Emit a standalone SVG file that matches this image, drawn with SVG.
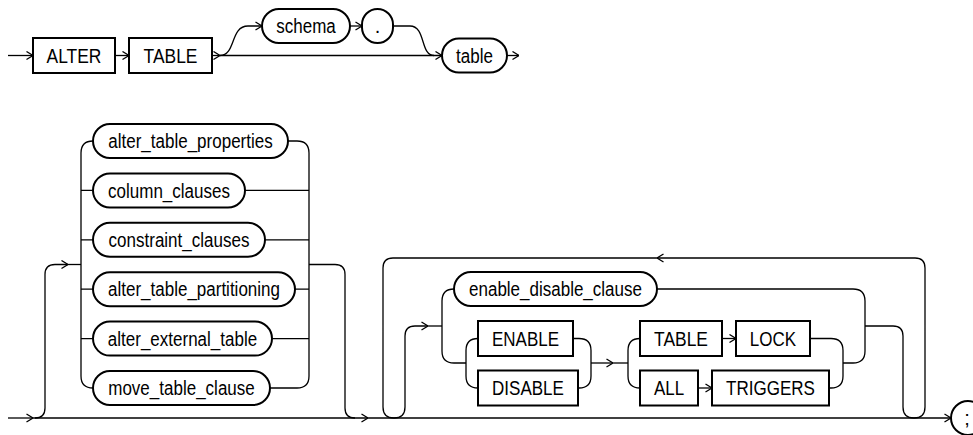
<svg xmlns="http://www.w3.org/2000/svg" width="973" height="435" viewBox="0 0 973 435">
<defs>
<marker id="arr" viewBox="0 0 10 10" markerWidth="10" markerHeight="10" markerUnits="userSpaceOnUse" refX="10" refY="5" orient="auto">
<path d="M3.5,1 L10,5 L3.5,9" fill="none" stroke="#000" stroke-width="1.3"/>
</marker>
<style>
.n{fill:#fff;stroke:#000;stroke-width:2}
.t{font-family:"Liberation Sans",Arial,sans-serif;font-size:20px;fill:#000;text-anchor:middle}
.c{fill:none;stroke:#000;stroke-width:1.3}
.a{fill:none;stroke:#000;stroke-width:1.3;marker-end:url(#arr)}
</style>
</defs>
<rect width="973" height="435" fill="#fff"/>
<g id="connectors">
<path class="a" d="M8,55.5 L33,55.5"/>
<path class="a" d="M115,55.5 L129,55.5"/>
<path class="a" d="M212,55.5 L220,55.5"/>
<path class="a" d="M220,55.5 L442,55.5"/>
<path class="a" d="M220,55.5 C236,55.5 230,26 248,26 L262,26"/>
<path class="a" d="M350,26 L362,26"/>
<path class="c" d="M393,26 L410,26 C426,26 420,55.5 434,55.5"/>
<path class="a" d="M507,55.5 L519,55.5"/>
<path class="a" d="M8,418 L33,418"/>
<path class="a" d="M33,418 L368,418"/>
<path class="a" d="M368,418 L951,418"/>
<path class="a" d="M35,418 Q45,418 45,408 L45,274.5 Q45,264.5 55,264.5 L68,264.5"/>
<path class="c" d="M68,264.5 L81,264.5"/>
<path class="c" d="M93,141 Q81,141 81,153 L81,376 Q81,388 93,388"/>
<path class="c" d="M81,190.4 L93,190.4 M81,239.8 L93,239.8 M81,289.2 L93,289.2 M81,338.6 L93,338.6"/>
<path class="c" d="M288,141 L297,141 Q309,141 309,153 L309,376 Q309,388 297,388 L270,388"/>
<path class="c" d="M245,190.4 L309,190.4 M265,239.8 L309,239.8 M295,289.2 L309,289.2 M272,338.6 L309,338.6"/>
<path class="c" d="M309,264.5 L335,264.5 Q345,264.5 345,274.5 L345,408 Q345,418 355,418"/>
<path class="a" d="M865,326 L893,326 Q903,326 903,336 L903,407 Q903,418 914,418 Q925,418 925,407 L925,268 Q925,258 915,258 L657,258"/>
<path class="a" d="M657,258 L393,258 Q383,258 383,268 L383,407 Q383,418 394,418 Q405,418 405,407 L405,336 Q405,326 415,326 L428,326"/>
<path class="c" d="M428,326 L442,326"/>
<path class="c" d="M454,289 Q442,289 442,301 L442,351 Q442,363 454,363 L466,363"/>
<path class="c" d="M657,289 L853,289 Q865,289 865,301 L865,351 Q865,363 853,363 L843,363"/>
<path class="c" d="M478,338.5 Q466,338.5 466,350.5 L466,376 Q466,388 478,388"/>
<path class="c" d="M573,338.5 L579,338.5 Q591,338.5 591,350.5 L591,376 Q591,388 579,388 L578,388"/>
<path class="a" d="M591,363 L613,363"/>
<path class="c" d="M613,363 L628,363"/>
<path class="c" d="M640,338.5 Q628,338.5 628,350.5 L628,376 Q628,388 640,388"/>
<path class="a" d="M722,338.5 L736,338.5"/>
<path class="a" d="M698,388 L712,388"/>
<path class="c" d="M810,338.5 L831,338.5 Q843,338.5 843,350.5 L843,376 Q843,388 831,388 L829,388"/>
</g>
<g id="n-alter"><rect class="n" x="33" y="38" width="82" height="35"/><text class="t" x="74" y="62.7" textLength="54.8" lengthAdjust="spacingAndGlyphs">ALTER</text></g>
<g id="n-table-kw"><rect class="n" x="129" y="38" width="83" height="35"/><text class="t" x="170.5" y="62.7" textLength="53.9" lengthAdjust="spacingAndGlyphs">TABLE</text></g>
<g id="n-schema"><rect class="n" x="262" y="9" width="88" height="34" rx="17"/><text class="t" x="306" y="33.2" textLength="59.5" lengthAdjust="spacingAndGlyphs">schema</text></g>
<g id="n-dot"><rect class="n" x="362" y="9" width="31" height="34" rx="15.5"/><text class="t" x="377.5" y="33.2">.</text></g>
<g id="n-table"><rect class="n" x="442" y="38.5" width="65" height="34" rx="17"/><text class="t" x="474.5" y="62.7" textLength="36.9" lengthAdjust="spacingAndGlyphs">table</text></g>
<g id="n-atp"><rect class="n" x="93" y="124" width="195" height="34" rx="17"/><text class="t" x="190.5" y="148.2" textLength="164.4" lengthAdjust="spacingAndGlyphs">alter_table_properties</text></g>
<g id="n-cc"><rect class="n" x="93" y="173.4" width="152" height="34" rx="17"/><text class="t" x="169" y="197.6" textLength="121.9" lengthAdjust="spacingAndGlyphs">column_clauses</text></g>
<g id="n-conc"><rect class="n" x="93" y="222.8" width="172" height="34" rx="17"/><text class="t" x="179" y="247" textLength="140.8" lengthAdjust="spacingAndGlyphs">constraint_clauses</text></g>
<g id="n-atpart"><rect class="n" x="93" y="272.2" width="202" height="34" rx="17"/><text class="t" x="194" y="296.4" textLength="172" lengthAdjust="spacingAndGlyphs">alter_table_partitioning</text></g>
<g id="n-aet"><rect class="n" x="93" y="321.6" width="179" height="34" rx="17"/><text class="t" x="182.5" y="345.8" textLength="149.3" lengthAdjust="spacingAndGlyphs">alter_external_table</text></g>
<g id="n-mtc"><rect class="n" x="93" y="371" width="177" height="34" rx="17"/><text class="t" x="181.5" y="395.2" textLength="146.5" lengthAdjust="spacingAndGlyphs">move_table_clause</text></g>
<g id="n-edc"><rect class="n" x="454" y="272" width="203" height="34" rx="17"/><text class="t" x="555.5" y="296.2" textLength="172.9" lengthAdjust="spacingAndGlyphs">enable_disable_clause</text></g>
<g id="n-enable"><rect class="n" x="478" y="321" width="95" height="35"/><text class="t" x="525.5" y="345.7" textLength="67.1" lengthAdjust="spacingAndGlyphs">ENABLE</text></g>
<g id="n-disable"><rect class="n" x="478" y="370.5" width="100" height="35"/><text class="t" x="528" y="395.2" textLength="71.8" lengthAdjust="spacingAndGlyphs">DISABLE</text></g>
<g id="n-table2"><rect class="n" x="640" y="321" width="82" height="35"/><text class="t" x="681" y="345.7" textLength="53.9" lengthAdjust="spacingAndGlyphs">TABLE</text></g>
<g id="n-lock"><rect class="n" x="736" y="321" width="74" height="35"/><text class="t" x="773" y="345.7" textLength="46.3" lengthAdjust="spacingAndGlyphs">LOCK</text></g>
<g id="n-all"><rect class="n" x="640" y="370.5" width="58" height="35"/><text class="t" x="669" y="395.2" textLength="30.2" lengthAdjust="spacingAndGlyphs">ALL</text></g>
<g id="n-triggers"><rect class="n" x="712" y="370.5" width="117" height="35"/><text class="t" x="770.5" y="395.2" textLength="88.8" lengthAdjust="spacingAndGlyphs">TRIGGERS</text></g>
<g id="n-semi"><rect class="n" x="951" y="401" width="34" height="34" rx="17"/><text class="t" x="967" y="425.2">;</text></g>
</svg>
